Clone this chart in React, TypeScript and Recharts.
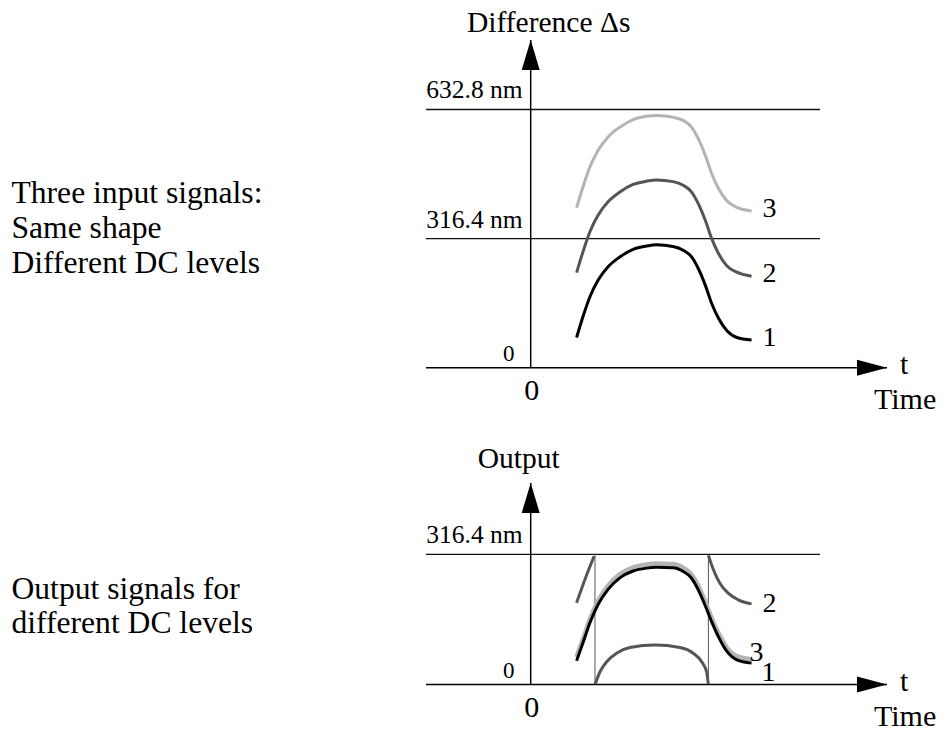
import { ComposedChart, Line, XAxis, YAxis, ReferenceLine, ReferenceDot } from 'recharts';

const serif = "Liberation Serif, Tinos, Times New Roman, DejaVu Serif, serif";

// time axis (arbitrary units), 0 is the vertical axis
const timeDomain = [-2.28, 7.76];
const halfWave = 316.4;
const fullWave = 632.8;

// three input signals, same time samples
const inputTime = [1.0, 1.15, 1.29, 1.47, 1.69, 1.95, 2.23, 2.52, 2.74, 3.1, 3.32, 3.5, 3.65, 3.8, 3.94, 4.09, 4.27, 4.49, 4.81];
const input1 = [74, 129, 174, 215, 248, 272, 290, 298, 301, 297, 288, 272, 243, 203, 158, 121, 91, 74, 68];
const input2 = [233, 288, 333, 374, 407, 431, 449, 457, 460, 456, 447, 431, 402, 362, 317, 280, 250, 234, 224];
const input3 = [392, 447, 492, 533, 566, 590, 608, 616, 618, 614, 606, 590, 561, 521, 476, 439, 409, 393, 384];

// output signals
const output1 = [58, 105, 150, 195, 232, 260, 276, 283, 285, 284, 275, 259, 230, 192, 153, 116, 81, 60, 52];
const output3 = [67, 114, 159, 204, 241, 269, 285, 292, 294, 293, 284, 268, 240, 202, 162, 125, 90, 69, 61];
const output2aTime = [1.0, 1.19, 1.38];
const output2a = [199, 258, 312];
const output2bTime = [1.4, 1.51, 1.66, 1.87, 2.16, 2.71, 3.25, 3.54, 3.72, 3.83, 3.87];
const output2b = [0, 31, 56, 76, 90, 96, 90, 76, 56, 31, 0];
const output2cTime = [3.87, 3.98, 4.12, 4.3, 4.52, 4.81];
const output2c = [314, 279, 246, 222, 206, 196];
const wrapTimes = [1.4, 3.87];

const topRows = inputTime.map((t, i) => ({ t, c1: input1[i], c2: input2[i], c3: input3[i] }));
const bottomRows = inputTime.map((t, i) => ({ t, c1: output1[i], c3: output3[i] }));
const rows = (ts: number[], vs: number[]) => ts.map((t, i) => ({ t, v: vs[i] }));

const tag = (text: string, dx: number, dy: number, size: number, anchor = 'start') => (p: any) => (
  <text x={p.cx + dx} y={p.cy + dy} textAnchor={anchor} fill="#000" style={{ fontFamily: serif, fontSize: size }}>
    {text}
  </text>
);
const upArrow = (p: any) => (
  <polygon points={`${p.cx},${p.cy} ${p.cx - 9},${p.cy + 30} ${p.cx + 9},${p.cy + 30}`} fill="#000" />
);
const rightArrow = (p: any) => (
  <polygon points={`${p.cx},${p.cy} ${p.cx - 30},${p.cy - 8} ${p.cx - 30},${p.cy + 8}`} fill="#000" />
);

const axisBits = (yTop: number, title: string, titleDx: number, titleDy: number) => [
  <ReferenceLine key="ax" x={0} stroke="#000" strokeWidth={1.5} ifOverflow="visible" />,
  <ReferenceLine key="ay" y={0} stroke="#000" strokeWidth={1.5} ifOverflow="visible" />,
  <ReferenceDot key="arrY" x={0} y={yTop} ifOverflow="visible" shape={upArrow} />,
  <ReferenceDot key="arrX" x={timeDomain[1]} y={0} ifOverflow="visible" shape={rightArrow} />,
  <ReferenceDot key="title" x={0} y={yTop} ifOverflow="visible" shape={tag(title, titleDx, titleDy, 29.5, 'middle')} />,
  <ReferenceDot key="zeroY" x={0} y={0} ifOverflow="visible" shape={tag('0', -22, -7, 23, 'middle')} />,
  <ReferenceDot key="zeroX" x={0} y={0} ifOverflow="visible" shape={tag('0', 1, 32.5, 30, 'middle')} />,
  <ReferenceDot key="t" x={timeDomain[1]} y={0} ifOverflow="visible" shape={tag('t', 13, 6, 30)} />,
  <ReferenceDot key="time" x={timeDomain[1]} y={0} ifOverflow="visible" shape={tag('Time', -13, 41, 30)} />,
];

const levelLine = (key: string, y: number, text: string) => [
  <ReferenceLine key={key} segment={[{ x: timeDomain[0], y }, { x: 6.3, y }]} stroke="#111" strokeWidth={1.4} />,
  <ReferenceDot key={key + 'l'} x={0} y={y} ifOverflow="visible" shape={tag(text, -8, -11, 25.5, 'end')} />,
];

const last = inputTime.length - 1;

export default function App() {
  return (
    <div style={{ position: 'absolute', left: 0, top: 0, width: 944, height: 734, background: '#fff' }}>
      <svg width={300} height={734} style={{ position: 'absolute', left: 0, top: 0 }}>
        <g fill="#000" style={{ fontFamily: serif, fontSize: 31.6 }}>
          <text x={11.5} y={202.7}>Three input signals:</text>
          <text x={11.5} y={237.5}>Same shape</text>
          <text x={11.5} y={273}>Different DC levels</text>
          <text x={11.5} y={599.3}>Output signals for</text>
          <text x={11.5} y={633.3}>different DC levels</text>
        </g>
      </svg>

      <div style={{ position: 'absolute', left: 0, top: 0 }}>
        <ComposedChart width={944} height={420} data={topRows} margin={{ top: 40, right: 57, bottom: 52.3, left: 426 }}>
          <XAxis type="number" dataKey="t" domain={timeDomain} allowDataOverflow hide />
          <YAxis type="number" domain={[0, 803]} allowDataOverflow hide />
          {levelLine('full', fullWave, '632.8 nm')}
          {levelLine('half', halfWave, '316.4 nm')}
          {axisBits(803, 'Difference Δs', 18, -8)}
          <Line dataKey="c3" type="monotone" stroke="#b4b4b4" strokeWidth={3} dot={false} isAnimationActive={false} />
          <Line dataKey="c2" type="monotone" stroke="#555" strokeWidth={3} dot={false} isAnimationActive={false} />
          <Line dataKey="c1" type="monotone" stroke="#000" strokeWidth={3} dot={false} isAnimationActive={false} />
          <ReferenceDot x={inputTime[last]} y={input3[last]} ifOverflow="visible" shape={tag('3', 11, 6, 28)} />
          <ReferenceDot x={inputTime[last]} y={input2[last]} ifOverflow="visible" shape={tag('2', 11, 6, 28)} />
          <ReferenceDot x={inputTime[last]} y={input1[last]} ifOverflow="visible" shape={tag('1', 11, 6, 28)} />
        </ComposedChart>
      </div>

      <div style={{ position: 'absolute', left: 0, top: 420 }}>
        <ComposedChart width={944} height={314} data={bottomRows} margin={{ top: 63, right: 57, bottom: 49.5, left: 426 }}>
          <XAxis type="number" dataKey="t" domain={timeDomain} allowDataOverflow hide />
          <YAxis type="number" domain={[0, 490]} allowDataOverflow hide />
          {levelLine('half', halfWave, '316.4 nm')}
          {wrapTimes.map((t) => (
            <ReferenceLine key={'w' + t} segment={[{ x: t, y: 0 }, { x: t, y: halfWave }]} stroke="#555" strokeWidth={1} />
          ))}
          {axisBits(490, 'Output', -12, -15)}
          <Line dataKey="c3" type="monotone" stroke="#b4b4b4" strokeWidth={4.5} dot={false} isAnimationActive={false} />
          <Line dataKey="c1" type="monotone" stroke="#000" strokeWidth={3} dot={false} isAnimationActive={false} />
          <Line data={rows(output2aTime, output2a)} dataKey="v" type="monotone" stroke="#555" strokeWidth={3} dot={false} isAnimationActive={false} />
          <Line data={rows(output2bTime, output2b)} dataKey="v" type="monotone" stroke="#555" strokeWidth={3} dot={false} isAnimationActive={false} />
          <Line data={rows(output2cTime, output2c)} dataKey="v" type="monotone" stroke="#555" strokeWidth={3} dot={false} isAnimationActive={false} />
          <ReferenceDot x={output2cTime[5]} y={output2c[5]} ifOverflow="visible" shape={tag('2', 11, 8, 28)} />
          <ReferenceDot x={inputTime[last]} y={output3[last]} ifOverflow="visible" shape={tag('3', -2, 2, 28)} />
          <ReferenceDot x={inputTime[last]} y={output1[last]} ifOverflow="visible" shape={tag('1', 10, 18, 28)} />
        </ComposedChart>
      </div>
    </div>
  );
}
